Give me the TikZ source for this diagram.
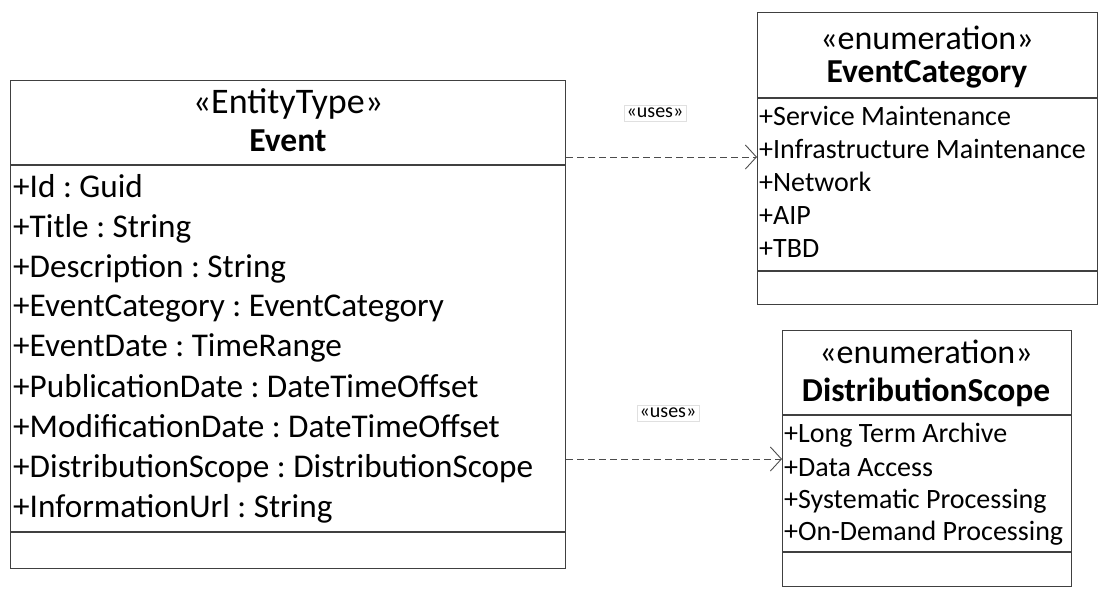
\documentclass[tikz,border=0pt]{standalone}
\usepackage{fontspec}
\setmainfont{Carlito}
\usetikzlibrary{calc, positioning, arrows.meta}
\frenchspacing

\tikzset{
  classbox/.style={draw=black!75, line width=1.3pt, rectangle, anchor=north west, inner sep=0pt},
  divider/.style={draw=black!75, line width=1.3pt},
  stereo/.style={font=\fontsize{34}{40}\selectfont, anchor=center},
  cname/.style={font=\bfseries\fontsize{33.5}{40}\selectfont, anchor=center},
  attr/.style={font=\fontsize{33.2}{40}\selectfont, anchor=base west, inner sep=0pt},
  lit/.style={font=\fontsize{28}{34}\selectfont, anchor=base west, inner sep=0pt},
  dep/.style={draw=black!70, line width=0.9pt, dash pattern=on 7pt off 4pt, -{Straight Barb[length=11pt, width=24pt, line width=0.9pt]}},
  useslabel/.style={font=\fontsize{20}{24}\selectfont, draw=black!12, fill=white, inner sep=3pt}
}

\begin{document}
\begin{tikzpicture}[x=1pt, y=-1pt]
\useasboundingbox (0,0) rectangle (1100,592);

% Event class
\node[classbox, minimum width=555, minimum height=488] (event) at (10,80) {};
\node[stereo, font=\fontsize{36}{42}\selectfont] (evstereo) at (288,104) {«EntityType»};
\node[cname] (evname) at (288,141) {Event};
\draw[divider] (10,165) -- (565,165);
\node[attr] (a1) at (13,197) {+Id : Guid};
\node[attr] (a2) at (13,237) {+Title : String};
\node[attr] (a3) at (13,277) {+Description : String};
\node[attr] (a4) at (13,316) {+EventCategory : EventCategory};
\node[attr] (a5) at (13,356) {+EventDate : TimeRange};
\node[attr] (a6) at (13,397) {+PublicationDate : DateTimeOffset};
\node[attr] (a7) at (13,437) {+ModificationDate : DateTimeOffset};
\node[attr] (a8) at (13,477) {+DistributionScope : DistributionScope};
\node[attr] (a9) at (13,517) {+InformationUrl : String};
\draw[divider] (10,532) -- (565,532);

% EventCategory enumeration
\node[classbox, minimum width=340, minimum height=292] (cat) at (757,12) {};
\node[stereo] (catstereo) at (927,38) {«enumeration»};
\node[cname] (catname) at (927,74) {EventCategory};
\draw[divider] (757,98) -- (1097,98);
\node[lit] (c1) at (759,125) {+Service Maintenance};
\node[lit] (c2) at (759,158) {+Infrastructure Maintenance};
\node[lit] (c3) at (759,191) {+Network};
\node[lit] (c4) at (759,224) {+AIP};
\node[lit] (c5) at (759,257) {+TBD};
\draw[divider] (757,271) -- (1097,271);

% DistributionScope enumeration
\node[classbox, minimum width=289, minimum height=256] (scope) at (782,330) {};
\node[stereo] (scstereo) at (926,352) {«enumeration»};
\node[cname] (scname) at (926,392) {DistributionScope};
\draw[divider] (782,415) -- (1071,415);
\node[lit] (s1) at (784,442) {+Long Term Archive};
\node[lit] (s2) at (784,476) {+Data Access};
\node[lit] (s3) at (784,508) {+Systematic Processing};
\node[lit] (s4) at (784,540) {+On-Demand Processing};
\draw[divider] (782,552) -- (1071,552);

% Dependencies
\coordinate (catlevel) at (660,157);
\coordinate (scopelevel) at (660,459);
\draw[dep] (event.east |- catlevel) -- (cat.west |- catlevel);
\draw[dep] (event.east |- scopelevel) -- (scope.west |- scopelevel);
\node[useslabel] (uses1) at (655,113) {«uses»};
\node[useslabel] (uses2) at (668,413) {«uses»};
\end{tikzpicture}
\end{document}
